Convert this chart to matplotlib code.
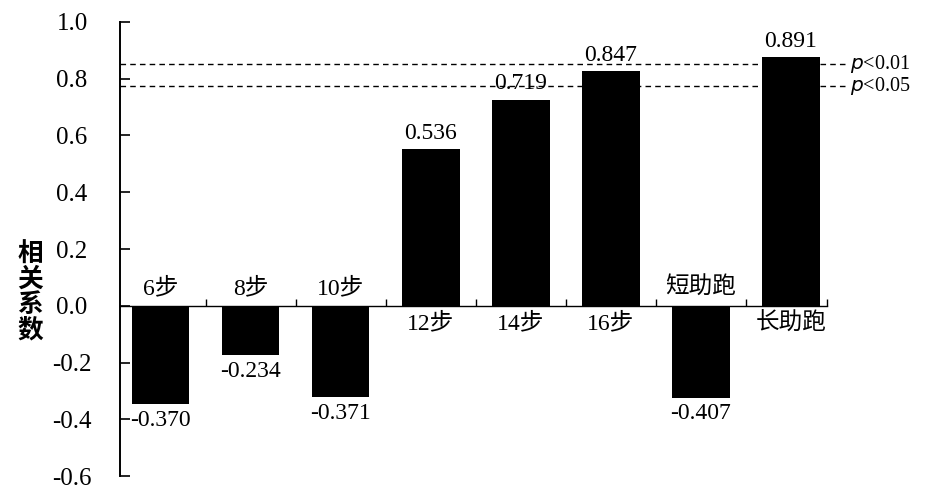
import numpy as np
import matplotlib
matplotlib.use("Agg")
import matplotlib.pyplot as plt

plt.rcParams['font.family'] = ['Liberation Serif', 'Noto Sans CJK SC']

# data
categories = ["6步", "8步", "10步", "12步", "14步", "16步", "短助跑", "长助跑"]
r_labels = ["-0.370", "-0.234", "-0.371", "0.536", "0.719", "0.847", "-0.407", "0.891"]
bar_heights = [-0.347, -0.174, -0.323, 0.551, 0.726, 0.826, -0.324, 0.876]
p_levels = ["p<0.01", "p<0.05"]
p_lines = [0.851, 0.773]
y_ticks = [-0.6, -0.4, -0.2, 0.0, 0.2, 0.4, 0.6, 0.8, 1.0]

fig = plt.figure(figsize=(9.47, 4.98), dpi=100)
ax = fig.add_axes([120 / 947, 1 - 476 / 498, 707 / 947, (476 - 22) / 498])

x = np.arange(len(categories))

# significance lines (behind bars, running past the axis end)
for yv, lab in zip(p_lines, p_levels):
    ax.plot([0, 1.025], [yv, yv], transform=ax.get_yaxis_transform(),
            color="black", lw=1.0, ls=(0, (4, 3)), clip_on=False, zorder=1)
    ax.text(1.033, yv, "$p$<" + lab[2:], transform=ax.get_yaxis_transform(),
            ha="left", va="center", fontsize=14.5, family="Liberation Serif")

ax.bar(x, bar_heights, width=0.64, color="black", zorder=2)

for xi, h, lab, cat in zip(x, bar_heights, r_labels, categories):
    if h >= 0:
        ax.annotate(lab, (xi, h), xytext=(0, 4), textcoords="offset points",
                    ha="center", va="bottom", fontsize=17)
        ax.annotate(cat, (xi, 0), xytext=(0, -5), textcoords="offset points",
                    ha="center", va="top", fontsize=17)
    else:
        ax.annotate(lab, (xi, h), xytext=(0, -4), textcoords="offset points",
                    ha="center", va="top", fontsize=17)
        ax.annotate(cat, (xi, 0), xytext=(0, 5), textcoords="offset points",
                    ha="center", va="bottom", fontsize=17)

ax.set_xlim(-0.45, 7.4)
ax.set_ylim(-0.6, 1.0)
ax.set_yticks(y_ticks)
ax.set_yticklabels([f"{v:.1f}" for v in y_ticks], fontsize=18)
ax.tick_params(axis="y", direction="in", length=7, width=1.2, pad=34.5)
for lab in ax.get_yticklabels():
    lab.set_horizontalalignment("center")

ax.spines["bottom"].set_position(("data", 0))
ax.set_xticks(list(np.arange(len(categories) - 1) + 0.5) + [7.4])
ax.set_xticklabels([])
ax.tick_params(axis="x", direction="in", length=5, width=1.0)

ax.spines["top"].set_visible(False)
ax.spines["right"].set_visible(False)
ax.spines["left"].set_linewidth(1.4)
ax.spines["bottom"].set_linewidth(1.0)

fig.text(30 / 947, 1 - 292 / 498, "相\n关\n系\n数", ha="center", va="center",
         fontsize=18.5, family="Noto Sans CJK SC", fontweight="bold", linespacing=0.92)

fig.savefig("out.png", dpi=100)
